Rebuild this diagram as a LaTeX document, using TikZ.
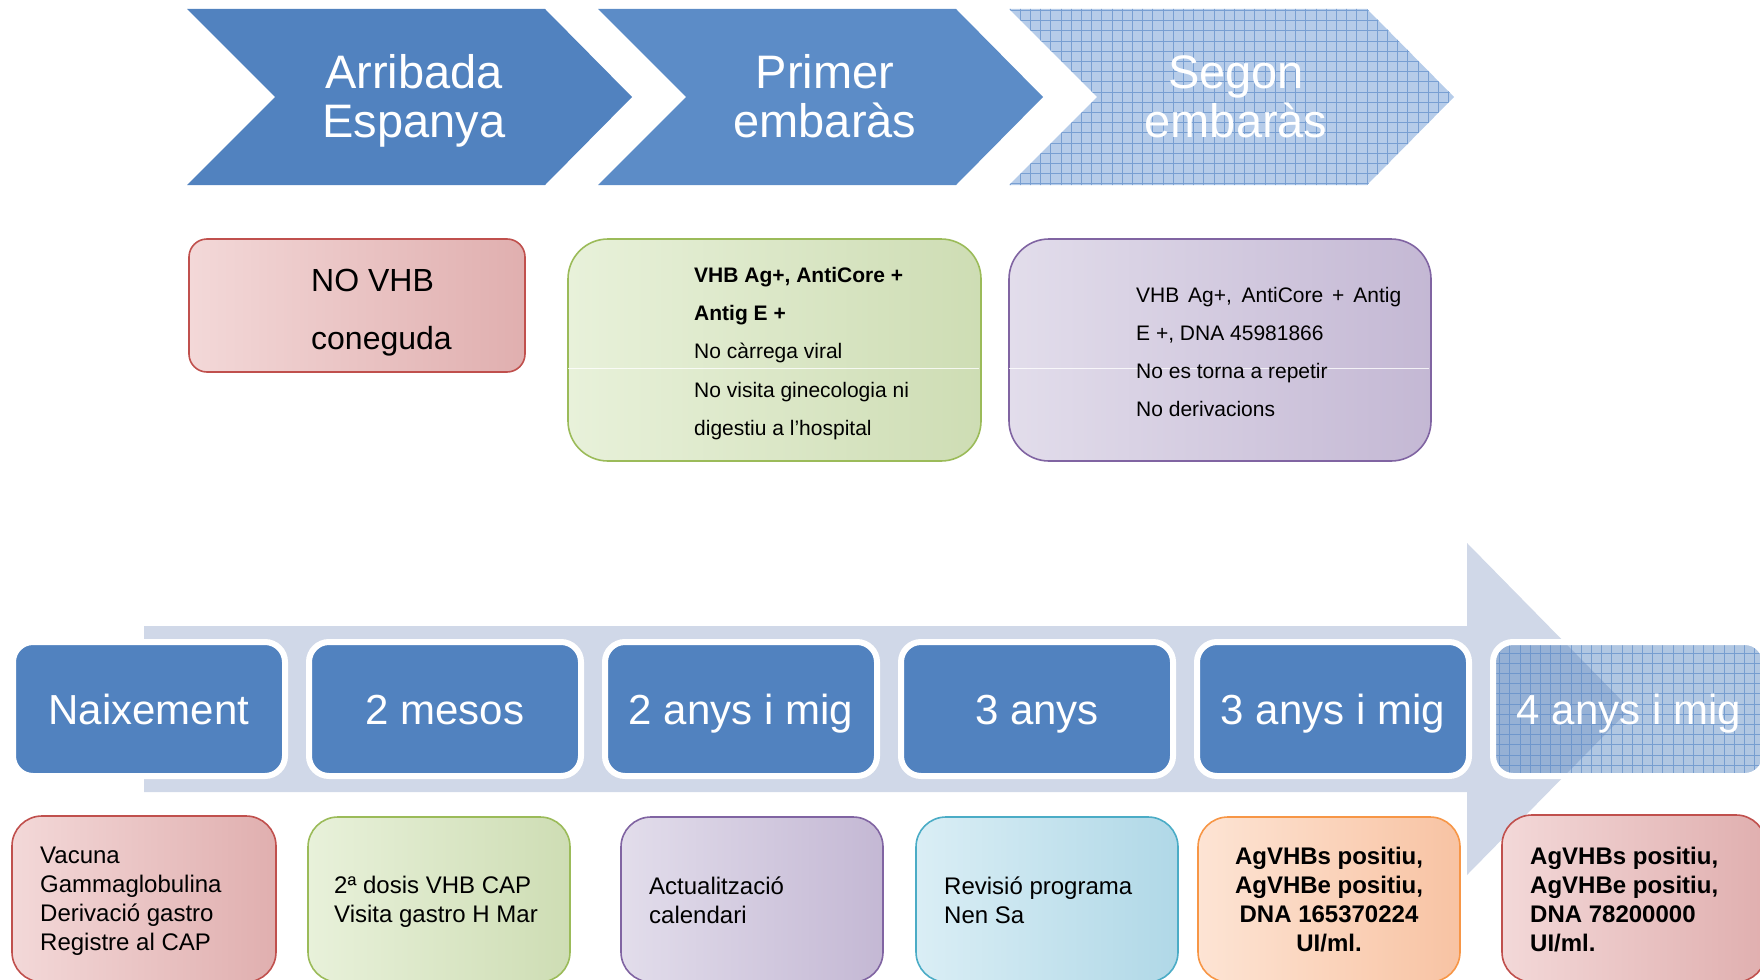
\documentclass[tikz,border=0pt]{standalone}
\usepackage{fontspec}
\setmainfont{Liberation Sans}
% zero-width rule that fixes the height of a first line
\newcommand{\firstline}[1]{\rule{0pt}{#1}}

\definecolor{bandgray}{HTML}{D0D8E8}
\definecolor{blueA}{HTML}{5182BF}
\definecolor{blueB}{HTML}{5C8CC7}
\definecolor{blueC}{HTML}{B6CCE9}
\definecolor{gridblue}{HTML}{5F8DC9}
\definecolor{redline}{HTML}{C0504D}
\definecolor{redL}{HTML}{F3D8D8}
\definecolor{redR}{HTML}{E0AFAF}
\definecolor{greenline}{HTML}{9BBB59}
\definecolor{greenL}{HTML}{E8F1DA}
\definecolor{greenR}{HTML}{CEDDB4}
\definecolor{purpleline}{HTML}{8064A2}
\definecolor{purpleL}{HTML}{E2DDEB}
\definecolor{purpleR}{HTML}{C4B8D4}
\definecolor{aqualine}{HTML}{4BACC6}
\definecolor{aquaL}{HTML}{DAEEF5}
\definecolor{aquaR}{HTML}{B0D8E7}
\definecolor{orangeline}{HTML}{F79646}
\definecolor{orangeL}{HTML}{FDE4D4}
\definecolor{orangeR}{HTML}{F8C3A3}

\begin{document}
\begin{tikzpicture}[x=1pt,y=-1pt,
  chevtext/.style={text=white, font=\fontsize{47}{49}\selectfont, align=center,
                   anchor=north, inner sep=0pt},
  card/.style={line width=1.6pt, rounded corners=#1, inner sep=0pt},
  cardtext/.style={inner sep=0pt, anchor=north west, align=left, text=black},
  stage/.style={draw=white, line width=6pt, rounded corners=20pt, fill=blueA,
                text=white, font=\fontsize{42}{50}\selectfont, text height=30pt,
                text depth=0pt, minimum width=272pt, minimum height=134pt, inner sep=0pt},
  tgrid/.style={draw=gridblue, line width=0.5pt, draw opacity=0.7},
  gloss/.style={white, opacity=0.8, line width=0.8pt},
]
\useasboundingbox (0,0) rectangle (1760,979);

% ---- phase chevrons ----
\fill[blueA] (187,9) -- (545,9) -- (632,97) -- (545,185) -- (187,185) -- (275,97) -- cycle;
\fill[blueB] (598,9) -- (956,9) -- (1043,97) -- (956,185) -- (598,185) -- (686,97) -- cycle;
\begin{scope}
  \clip (1009,9) -- (1367,9) -- (1454,97) -- (1367,185) -- (1009,185) -- (1097,97) -- cycle;
  \fill[blueC] (1000,0) rectangle (1460,190);
  \draw[tgrid, step=10.2pt] (1000,0) grid (1460,190);
\end{scope}
\node[chevtext] (ch1) at (414,46) {\firstline{42pt}Arribada\\Espanya};
\node[chevtext] (ch2) at (825,46) {\firstline{42pt}Primer\\embaràs};
\node[chevtext] (ch3) at (1236,46) {\firstline{42pt}Segon\\embaràs};

% ---- phase details ----
\node[card=18pt, draw=redline, left color=redL, right color=redR,
      minimum width=336pt, minimum height=133pt] (mb1) at (357,305.5) {};
\node[card=40pt, draw=greenline, left color=greenL, right color=greenR,
      minimum width=413pt, minimum height=222pt] (mb2) at (774.5,350) {};
\node[card=40pt, draw=purpleline, left color=purpleL, right color=purpleR,
      minimum width=422pt, minimum height=222pt] (mb3) at (1220,350) {};
\draw[gloss] (mb2.west) ++(1,18) -- ++(411,0);
\draw[gloss] (mb3.west) ++(1,18) -- ++(420,0);

\node[cardtext, font=\fontsize{32}{58}\selectfont] (mt1) at (311,262)
  {\firstline{29pt}NO VHB\\coneguda};
\node[cardtext, font=\fontsize{21}{38.3}\selectfont] (mt2) at (694,263)
  {\firstline{19pt}\textbf{VHB Ag+, AntiCore +}\\\textbf{Antig E +}\\No càrrega viral\\No visita ginecologia ni\\digestiu a l’hospital};
\node[cardtext, font=\fontsize{21}{38}\selectfont] (mt3) at (1136,283)
  {\firstline{19pt}\makebox[265pt][s]{VHB Ag+, AntiCore + Antig}\\E +, DNA 45981866\\No es torna a repetir\\No derivacions};

% ---- timeline arrow ----
\fill[bandgray] (144,626) -- (1467,626) -- (1467,543) -- (1630,709) -- (1467,875)
  -- (1467,792) -- (144,792) -- cycle;

\node[stage] (s1) at (149,709) {Naixement};
\node[stage] (s2) at (445,709) {2 mesos};
\node[stage] (s3) at (741,709) {2 anys i mig};
\node[stage] (s4) at (1037,709) {3 anys};
\node[stage] (s5) at (1333,709) {3 anys i mig};
% last stage: see-through fill with a fine grid
\begin{scope}
  \clip[rounded corners=20pt] (1493,642) rectangle (1765,776);
  \fill[blueA, opacity=0.45] (1490,636) rectangle (1770,780);
  \draw[tgrid, step=10.2pt] (1490,636) grid (1770,780);
\end{scope}
\node[stage, fill=none] (s6) at (1629,709) {4 anys i mig};

% ---- timeline details ----
\node[card=30pt, draw=redline, left color=redL, right color=redR,
      minimum width=264pt, minimum height=166pt] (b1) at (144,899) {};
\node[card=30pt, draw=greenline, left color=greenL, right color=greenR,
      minimum width=262pt, minimum height=165pt] (b2) at (439,899.5) {};
\node[card=30pt, draw=purpleline, left color=purpleL, right color=purpleR,
      minimum width=262pt, minimum height=165pt] (b3) at (752,899.5) {};
\node[card=30pt, draw=aqualine, left color=aquaL, right color=aquaR,
      minimum width=262pt, minimum height=165pt] (b4) at (1047,899.5) {};
\node[card=30pt, draw=orangeline, left color=orangeL, right color=orangeR,
      minimum width=262pt, minimum height=165pt] (b5) at (1329,899.5) {};
\node[card=30pt, draw=redline, left color=redL, right color=redR,
      minimum width=264pt, minimum height=167pt] (b6) at (1634,898.5) {};

\node[cardtext, font=\fontsize{24}{29}\selectfont] (bt1) at (40,841)
  {\firstline{22pt}Vacuna\\Gammaglobulina\\Derivació gastro\\Registre al CAP};
\node[cardtext, font=\fontsize{24}{29}\selectfont] (bt2) at (334,871)
  {\firstline{22pt}2ª dosis VHB CAP\\Visita gastro H Mar};
\node[cardtext, font=\fontsize{24}{29}\selectfont] (bt3) at (649,872)
  {\firstline{22pt}Actualització\\calendari};
\node[cardtext, font=\fontsize{24}{29}\selectfont] (bt4) at (944,872)
  {\firstline{22pt}Revisió programa\\Nen Sa};
\node[cardtext, anchor=north, align=center, font=\fontsize{24}{29}\selectfont\bfseries] (bt5) at (1329,842)
  {\firstline{22pt}AgVHBs positiu,\\AgVHBe positiu,\\DNA 165370224\\UI/ml.};
\node[cardtext, font=\fontsize{24}{29}\selectfont\bfseries] (bt6) at (1530,842)
  {\firstline{22pt}AgVHBs positiu,\\AgVHBe positiu,\\DNA 78200000\\UI/ml.};
\end{tikzpicture}
\end{document}
